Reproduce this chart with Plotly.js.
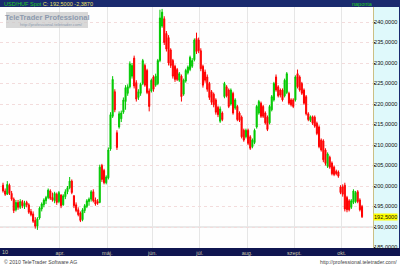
<!DOCTYPE html>
<html><head><meta charset="utf-8">
<script src="https://cdn.plot.ly/plotly-3.0.1.min.js"></script>
<style>html,body{margin:0;padding:0;background:#fff;overflow:hidden}#chart{width:400px;height:266px}</style>
</head><body><div id="chart"></div>
<script>
// USD/HUF daily, from 2010-02-23 (business days)
const startDate = [2010, 1, 23];
const open  = [200.2,198.8,198.0,200.2,198.2,196.8,194.2,196.0,194.8,196.2,195.0,196.0,195.4,193.8,193.2,191.6,190.2,192.2,194.4,195.4,196.4,197.2,198.8,197.2,196.4,198.0,196.2,197.8,
195.4,197.4,198.6,199.6,201.2,197.6,195.4,194.2,193.4,191.8,194.0,195.0,196.2,196.8,198.6,196.6,196.2,196.0,205.0,203.8,200.8,202.0,
209.0,217.0,223.0,213.0,214.4,216.4,218.0,220.6,222.6,224.2,226.8,231.2,225.2,221.6,222.6,225.0,229.4,228.2,223.2,223.2,226.6,224.6,
225.0,230.6,239.0,240.8,237.2,236.2,233.2,230.6,229.2,228.4,225.8,226.8,222.4,225.6,227.6,228.4,229.2,230.8,236.0,235.6,233.0,229.2,
227.8,226.6,225.0,223.0,222.4,221.0,219.2,215.8,217.8,221.8,224.2,223.4,220.0,222.6,219.0,219.4,217.8,216.8,213.6,212.0,213.6,212.0,
209.6,210.6,214.4,217.8,220.2,219.4,217.8,216.8,215.4,218.6,221.0,226.6,224.2,223.4,223.4,222.0,222.8,222.6,221.0,221.0,221.0,227.4,
226.6,225.0,223.4,221.8,217.6,216.0,216.9,216.8,215.3,214.4,211.2,211.0,208.8,204.8,207.0,205.6,204.6,203.6,203.4,199.8,199.8,200.2,
197.2,196.4,194.8,196.0,196.2,198.6,196.6,195.0];
const high  = [200.8,199.4,201.2,200.6,198.8,197.2,196.6,196.6,196.8,196.6,196.4,196.4,195.8,194.4,193.8,192.4,192.4,195.0,196.0,197.0,197.6,199.4,199.2,198.4,198.6,198.4,198.8,198.0,
198.0,199.2,200.0,202.2,201.6,197.8,196.0,194.8,193.8,194.6,195.6,196.8,197.2,199.0,199.2,197.2,196.8,205.2,205.4,204.2,202.6,209.4,
218.0,226.8,223.6,213.6,218.2,218.4,221.6,224.6,224.8,230.4,230.0,231.8,225.8,223.6,225.2,231.0,229.8,228.6,223.8,226.2,227.0,227.4,
231.0,243.0,243.2,241.4,237.8,236.8,233.6,231.0,229.6,228.8,227.8,227.2,226.2,228.6,229.4,231.8,231.2,236.0,237.4,236.2,233.6,229.6,
228.4,227.2,225.4,223.4,222.8,221.4,219.6,219.4,218.2,225.4,224.6,223.8,223.8,223.0,221.4,219.8,218.2,217.2,214.0,214.0,214.0,212.4,
211.6,214.0,219.8,221.0,220.6,219.8,218.2,217.2,219.8,222.2,225.4,227.2,224.6,223.8,223.8,226.2,227.8,223.0,221.4,221.4,227.0,228.4,
227.0,225.4,223.8,222.2,218.0,217.2,217.2,217.2,215.7,214.8,211.6,211.4,209.2,208.2,207.4,206.0,205.0,204.0,203.8,200.2,200.4,200.8,
197.6,196.8,196.8,199.2,198.8,199.0,197.0,195.4];
const low   = [198.4,197.6,197.8,197.8,196.4,193.4,193.8,194.2,194.4,194.6,194.4,194.8,193.2,192.6,191.0,189.6,189.3,191.8,193.8,194.8,195.6,196.8,196.6,196.2,195.8,195.4,195.8,194.6,
195.2,196.8,198.0,199.2,198.0,194.6,193.6,192.6,191.2,191.4,193.4,194.6,195.2,196.2,196.0,195.2,195.4,195.8,201.0,200.4,200.4,201.6,
208.6,216.6,218.0,208.8,214.0,215.6,217.6,218.6,222.0,223.8,226.2,223.8,220.6,221.0,222.0,224.6,224.2,222.4,218.2,222.8,223.0,224.2,
224.6,230.2,238.6,234.4,232.8,229.4,228.8,226.2,225.4,225.6,225.4,220.6,222.0,225.2,227.2,228.0,228.8,230.4,232.2,232.4,228.0,224.0,
225.2,223.0,221.0,219.8,219.2,217.4,216.8,215.4,215.8,221.4,221.6,219.0,219.6,217.4,218.6,215.8,215.6,211.6,210.8,211.6,210.0,208.8,
209.2,210.2,214.0,217.4,216.6,216.6,215.0,213.4,215.0,218.2,220.6,223.0,221.6,221.6,220.6,221.6,222.4,219.8,219.4,219.0,220.6,223.8,
223.0,222.2,219.8,217.2,215.8,215.6,214.9,214.2,212.4,209.2,208.4,205.8,205.0,204.4,204.2,202.6,202.4,202.6,202.0,198.0,197.4,193.8,
193.6,193.8,194.4,195.6,195.8,195.8,193.8,192.2];
const close = [198.8,198.0,200.4,198.2,196.8,194.0,196.0,194.8,196.2,195.2,195.8,195.4,193.6,193.0,191.4,190.2,192.0,194.6,195.6,196.6,197.2,199.0,197.0,196.6,198.2,196.0,198.4,195.2,
197.6,198.6,199.6,201.2,198.4,195.2,194.0,193.0,191.6,194.2,195.2,196.4,196.8,198.6,196.4,195.6,195.8,204.6,201.6,200.8,202.2,208.8,
217.4,226.0,218.6,209.4,217.6,217.8,221.0,224.0,224.2,229.8,229.4,224.4,221.2,223.0,224.8,230.6,224.6,222.8,219.4,225.8,223.6,226.8,
230.6,241.0,242.4,235.0,233.4,230.0,229.4,226.8,226.0,226.0,227.4,221.8,225.8,228.2,229.0,231.4,230.6,235.6,232.8,233.0,228.6,224.6,
225.8,223.6,221.6,220.4,219.8,218.0,217.4,218.8,216.2,225.0,222.0,219.4,223.4,217.8,221.0,216.2,216.0,212.0,211.2,213.6,210.4,209.2,
211.2,213.6,219.4,220.6,217.0,217.0,215.4,213.8,219.4,221.8,225.0,223.4,222.0,222.2,221.0,225.8,227.4,220.2,219.8,219.4,226.6,224.2,
223.4,222.6,220.2,217.6,216.2,216.9,215.3,214.6,212.8,209.6,208.8,206.4,205.5,207.8,204.6,203.0,202.8,203.0,202.4,198.4,198.0,194.4,
194.2,194.2,196.4,198.8,198.4,196.2,194.2,192.5];
const monthLabels = {3:'apr.', 4:'máj.', 5:'jún.', 6:'júl.', 7:'aug.', 8:'szept.', 9:'okt.'};
const yearLabel = '10';
const headerName = 'USD/HUF Spot';
const headerValues = 'C: 192,5000 -2,3870';
const periodLabel = 'naponta';

// trading days
const dates = [];
const d = new Date(Date.UTC(startDate[0], startDate[1], startDate[2]));
while (dates.length < close.length) {
  const wd = d.getUTCDay();
  if (wd !== 0 && wd !== 6) dates.push(new Date(d.getTime()));
  d.setUTCDate(d.getUTCDate() + 1);
}
const xs = dates.map((_, i) => i);
const tickvals = [], ticktext = [];
for (let i = 1; i < dates.length; i++) {
  const m = dates[i].getUTCMonth();
  if (m !== dates[i - 1].getUTCMonth() && monthLabels[m]) { tickvals.push(i - 0.5); ticktext.push(monthLabels[m]); }
}

const W = 373, PT = 7, PB = 248, H = PB - PT;
const px = x => x / W;
const py = y => (PB - y) / H;
const fmt = v => v.toFixed(4).replace('.', ',');

const trace = {
  type: 'candlestick', x: xs, open: open, high: high, low: low, close: close,
  increasing: {line: {color: '#00c800', width: 1}, fillcolor: '#00d000'},
  decreasing: {line: {color: '#ff0000', width: 1}, fillcolor: '#ff0000'},
  whiskerwidth: 0, hoverinfo: 'none'
};

const F = 'Liberation Sans, Arial, sans-serif';
const layout = {
  width: 400, height: 266,
  margin: {l: 0, r: 400 - W, t: PT, b: 266 - PB, pad: 0},
  paper_bgcolor: '#dff9fb', plot_bgcolor: '#fefefe',
  separators: ',.', showlegend: false, dragmode: false,
  xaxis: {
    range: [-1.4, 172.1], tickvals: tickvals, ticktext: ticktext,
    showgrid: true, gridcolor: '#e6e6e6', gridwidth: 1, zeroline: false, showline: false,
    ticks: '', tickfont: {size: 5.5, color: '#c8c8a8', family: F},
    rangeslider: {visible: false}, fixedrange: true
  },
  yaxis: {
    side: 'right', range: [184.88, 243.66], tick0: 185, dtick: 5, tickformat: '.4f',
    showgrid: true, gridcolor: '#f3dcdc', griddash: 'dot', gridwidth: 1,
    showline: true, linecolor: '#cbbf84', linewidth: 1, mirror: false,
    ticks: 'outside', ticklen: 1, tickcolor: '#333', ticklabelstandoff: -2,
    tickfont: {size: 5.6, color: '#111', family: F},
    zeroline: false, fixedrange: true
  },
  shapes: [
    {type: 'rect', xref: 'paper', yref: 'paper', x0: 0, x1: px(400), y0: py(0), y1: py(PT), fillcolor: '#1a2a6e', line: {width: 0}, layer: 'below'},
    {type: 'rect', xref: 'paper', yref: 'paper', x0: 0, x1: px(400), y0: py(PB), y1: py(256), fillcolor: '#0f1550', line: {width: 0}, layer: 'below'},
    {type: 'rect', xref: 'paper', yref: 'paper', x0: 0, x1: px(400), y0: py(256), y1: py(266), fillcolor: '#ffffff', line: {width: 0}, layer: 'below'},
    {type: 'line', xref: 'paper', yref: 'paper', x0: px(399.5), x1: px(399.5), y0: py(PT), y1: py(PB), line: {color: '#1a2a6e', width: 1}},
    {type: 'line', xref: 'paper', yref: 'y', x0: 0, x1: 1, y0: 190, y1: 190, line: {color: '#d4d4d4', width: 1}, layer: 'below'},
    {type: 'rect', xref: 'paper', yref: 'paper', x0: px(6), x1: px(88), y0: py(12), y1: py(28), fillcolor: 'rgba(200,200,200,0.7)', line: {width: 0}}
  ],
  annotations: [
    {xref: 'paper', yref: 'paper', x: px(2), y: py(3.6), xanchor: 'left', yanchor: 'middle', showarrow: false,
     text: '<span style="color:#22cc22">' + headerName + '</span> <span style="color:#e8e060">' + headerValues + '</span>',
     font: {size: 5.5, family: F}},
    {xref: 'paper', yref: 'paper', x: px(362), y: py(3.6), xanchor: 'center', yanchor: 'middle', showarrow: false,
     text: periodLabel, font: {size: 5.5, family: F, color: '#22cc22'}},
    {xref: 'paper', yref: 'paper', x: px(5), y: py(252.3), xanchor: 'center', yanchor: 'middle', showarrow: false,
     text: yearLabel, font: {size: 5.5, family: F, color: '#c8c8a8'}},
    {xref: 'paper', yref: 'paper', x: px(2), y: py(261.5), xanchor: 'left', yanchor: 'middle', showarrow: false,
     text: '© 2010 TeleTrader Software AG', font: {size: 5.2, family: F, color: '#444'}},
    {xref: 'paper', yref: 'paper', x: px(399), y: py(261.5), xanchor: 'right', yanchor: 'middle', showarrow: false,
     text: 'http://professional.teletrader.com/', font: {size: 5.2, family: F, color: '#444'}},
    {xref: 'paper', yref: 'paper', x: px(47), y: py(18), xanchor: 'center', yanchor: 'middle', showarrow: false,
     text: '<b>TeleTrader Professional</b>', font: {size: 7.5, family: F, color: '#8c9aae'}},
    {xref: 'paper', yref: 'paper', x: px(51), y: py(24.6), xanchor: 'center', yanchor: 'middle', showarrow: false,
     text: 'http://professional.teletrader.com/', font: {size: 4.2, family: F, color: '#8c9aae'}},
    {xref: 'paper', yref: 'y', x: px(373.5), y: close[close.length - 1], xanchor: 'left', yanchor: 'middle', showarrow: false,
     text: fmt(close[close.length - 1]), bgcolor: '#ffff00', borderpad: 0, font: {size: 5.6, family: F, color: '#111'}}
  ]
};
Plotly.newPlot('chart', [trace], layout, {displayModeBar: false, staticPlot: true});
</script></body></html>
